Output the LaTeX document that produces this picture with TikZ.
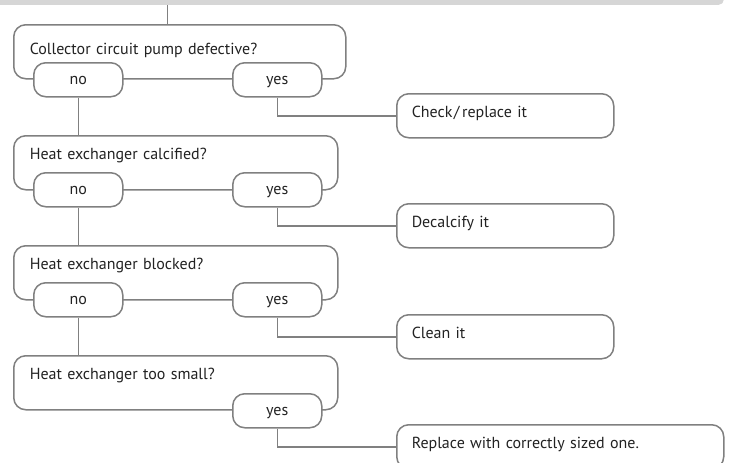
\documentclass[tikz,border=0pt]{standalone}
\usepackage{fontspec}
\setmainfont{PT Sans}
\definecolor{linec}{HTML}{808080}
\definecolor{txtc}{HTML}{222222}
\definecolor{barc}{HTML}{D6D6D6}
\begin{document}
\begin{tikzpicture}[x=1pt,y=-1pt,
  every node/.style={font=\fontsize{16}{19}\selectfont, text=txtc},
  qbox/.style={draw=linec, line width=1.5pt, rounded corners=12pt, fill=white,
    anchor=north west, inner xsep=16pt, inner ysep=0pt, text height=24pt, text depth=30pt, align=left},
  ansbox/.style={draw=linec, line width=1.5pt, rounded corners=12pt, fill=white,
    anchor=north west, inner sep=0pt, minimum width=89pt, minimum height=34pt, text height=12pt, text depth=3pt},
  actbox/.style={draw=linec, line width=1.5pt, rounded corners=12pt, fill=white,
    anchor=north west, inner xsep=15pt, inner ysep=0pt, text height=24pt, text depth=20pt, align=left},
  conn/.style={draw=linec, line width=1.5pt}
]
\useasboundingbox (0,0) rectangle (729,463);
% top bar
\node[fill=barc, rounded corners=5pt, anchor=south east, minimum width=740pt, minimum height=20pt, inner sep=0pt] (bar) at (724,5) {};
% question boxes
\node[qbox, text width=300pt, text height=30pt, text depth=24pt] (q1) at (13,24) {Collector circuit pump defective?};
\node[qbox, text width=292pt] (q2) at (13,135) {Heat exchanger calcified?};
\node[qbox, text width=292pt] (q3) at (13,245) {Heat exchanger blocked?};
\node[qbox, text width=292pt] (q4) at (13,355) {Heat exchanger too small?};
% answers
\node[ansbox] (no1) at (33,62) {no};
\node[ansbox] (yes1) at (232,62) {yes};
\node[ansbox] (no2) at (33,172) {no};
\node[ansbox] (yes2) at (232,172) {yes};
\node[ansbox] (no3) at (33,282) {no};
\node[ansbox] (yes3) at (232,282) {yes};
\node[ansbox] (yes4) at (232,393) {yes};
% actions
\node[actbox, text width=187pt] (a1) at (396,93) {Check\kern1.5pt/\kern2.5pt replace it};
\node[actbox, text width=187pt] (a2) at (396,203) {Decalcify it};
\node[actbox, text width=187pt] (a3) at (396,314) {Clean it};
\node[actbox, text width=297pt] (a4) at (396,424) {Replace with correctly sized one.};
% connectors
\coordinate (c0) at (167.5,24);
\draw[conn] (bar.south -| c0) -- (c0);
\draw[conn] (no1.south) -- (no1.south |- q2.north);
\draw[conn] (no2.south) -- (no2.south |- q3.north);
\draw[conn] (no3.south) -- (no3.south |- q4.north);
\draw[conn] (yes1.south) |- (a1.west);
\draw[conn] (yes2.south) |- (a2.west);
\draw[conn] (yes3.south) |- (a3.west);
\draw[conn] (yes4.south) |- (a4.west);
\end{tikzpicture}
\end{document}
